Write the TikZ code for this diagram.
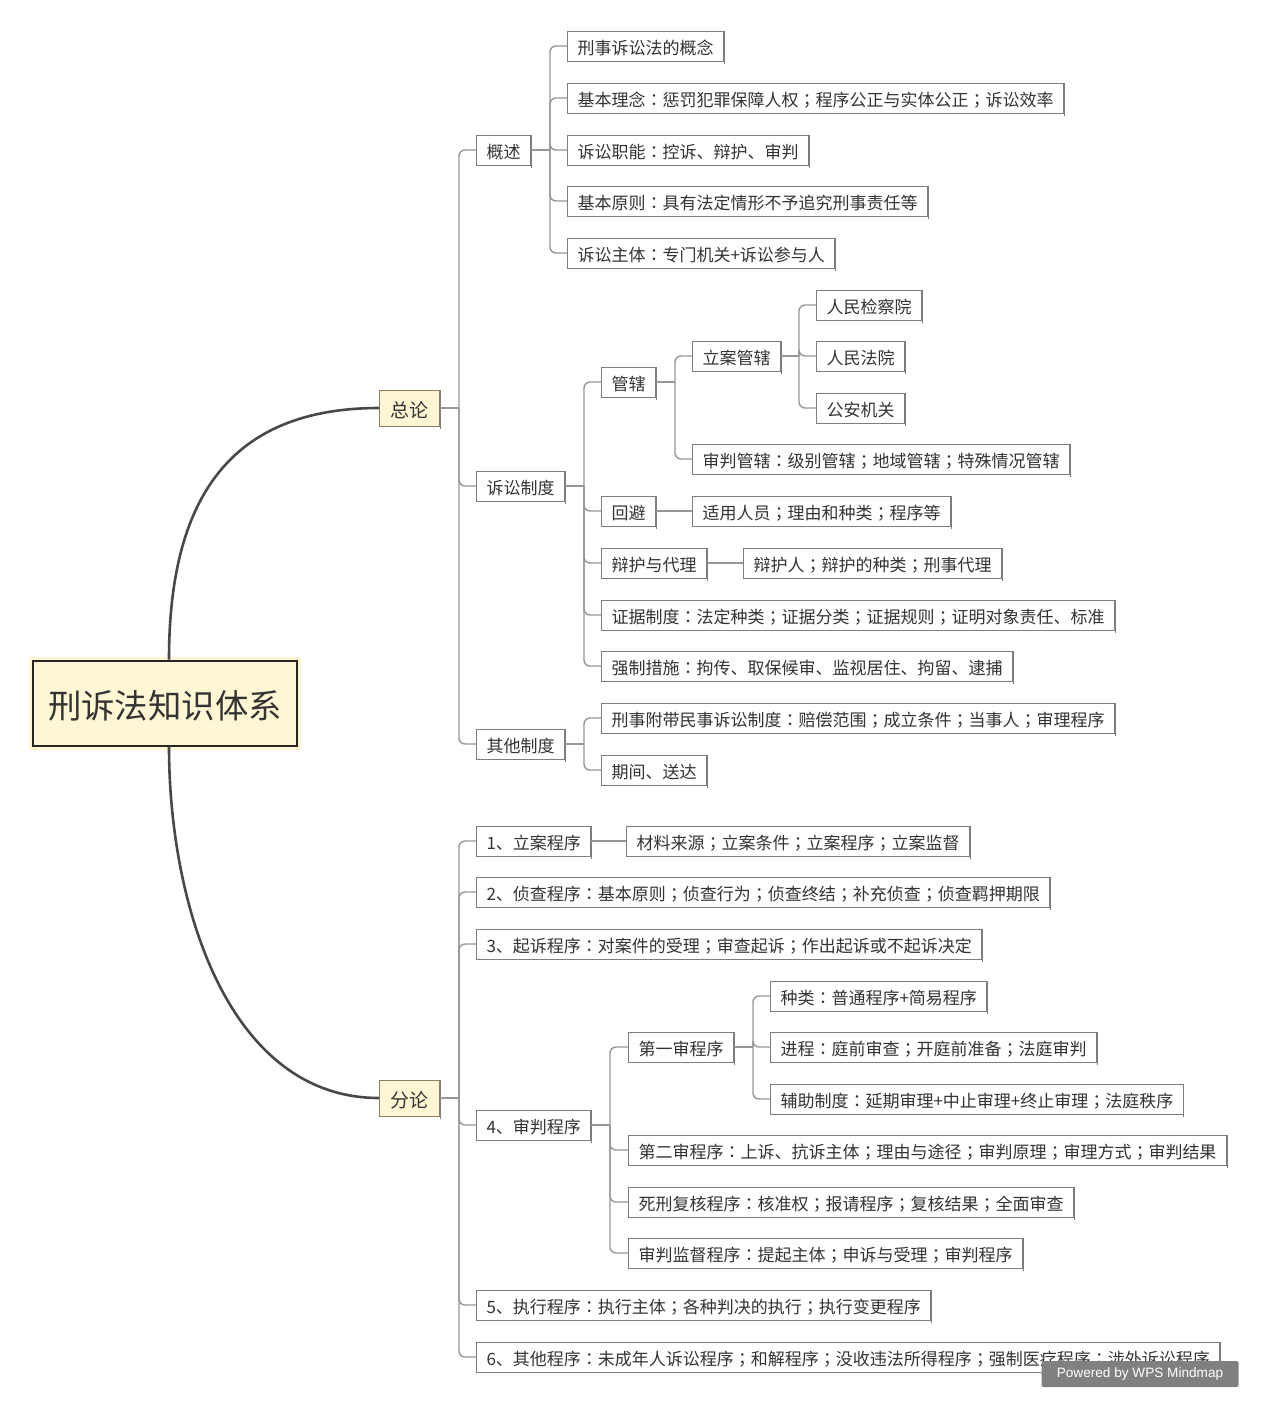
\documentclass[tikz,border=0pt]{standalone}
\usepackage{fontspec}
\setmainfont{Noto Sans CJK SC}
\newfontfamily\jpfont{Noto Sans CJK JP}
\newfontfamily\marksans{Liberation Sans}
\usetikzlibrary{positioning}
\definecolor{notefill}{RGB}{255,246,212}
\definecolor{noteline}{RGB}{140,125,95}
\definecolor{boxline}{RGB}{125,125,125}
\definecolor{linkgray}{RGB}{150,150,150}
\definecolor{inkgray}{RGB}{51,51,51}
\definecolor{trunkgray}{RGB}{72,72,72}
\definecolor{markgray}{RGB}{128,128,128}
% centred full-width colon and semicolon
\catcode`：=\active
\catcode`；=\active
\def：{{\jpfont\char"FF1A}}
\def；{{\jpfont\char"FF1B}}

\begin{document}
\begin{tikzpicture}[
  x=0.5pt, y=-0.5pt,
  item/.style={rectangle, draw=boxline, fill=white, line width=0.5pt, anchor=west, font=\fontsize{8.5}{10}\selectfont, text=inkgray, inner xsep=5pt, inner ysep=0pt, minimum height=15pt, text height=9.5pt, text depth=1pt,
    append after command={\pgfextra{\draw[boxline, line width=0.5pt] (\tikzlastnode.north east) -- ([yshift=-1pt]\tikzlastnode.south east);}}},
  topic/.style={item, draw=noteline, fill=notefill, font=\fontsize{9.5}{11}\selectfont, inner xsep=5.5pt, minimum height=18pt, text height=10.5pt},
  rootbox/.style={rectangle, draw=black!85, fill=notefill, line width=1pt, font=\fontsize{16.7}{20}\selectfont, text=inkgray, inner xsep=7.5pt, minimum height=42.5pt, text height=17pt, text depth=2pt, preaction={draw=notefill, line width=4pt}},
  link/.style={draw=linkgray, line width=0.7pt, rounded corners=3pt},
  trunk/.style={draw=trunkgray, line width=1.3pt},
  wmark/.style={rectangle, fill=markgray, rounded corners=1pt, text=white, font=\marksans\fontsize{6.8}{8}\selectfont, minimum width=98.5pt, minimum height=13pt}
]
\useasboundingbox (0,0) rectangle (1265,1410);

% Root and the two main topics
\node[rootbox] (root) at (165,703) {刑诉法知识体系};
\node[topic] (zl) at (379,408) {总论};
\node[topic] (fl) at (379,1098) {分论};
\draw[trunk] ([xshift=2pt]root.north) .. controls +(0,-160) and +(-150,0) .. (zl.west);
\draw[trunk] ([xshift=2pt]root.south) .. controls +(0,160) and +(-150,0) .. (fl.west);

% 总论
\node[item] (gs) at (476,150) {概述};
\node[item] (sszd) at (476,486) {诉讼制度};
\node[item] (qtzd) at (476,744) {其他制度};
\coordinate (zl-j) at (459,408);
\draw[link] (zl) -- (zl-j);
\foreach \c in {gs,sszd,qtzd} \draw[link] (zl-j) |- (\c.west);

% 概述
\node[item] (gs1) at (567,46) {刑事诉讼法的概念};
\node[item] (gs2) at (567,98) {基本理念：惩罚犯罪保障人权；程序公正与实体公正；诉讼效率};
\node[item] (gs3) at (567,150) {诉讼职能：控诉、辩护、审判};
\node[item] (gs4) at (567,201) {基本原则：具有法定情形不予追究刑事责任等};
\node[item] (gs5) at (567,253) {诉讼主体：专门机关+诉讼参与人};
\coordinate (gs-j) at (550,150);
\draw[link] (gs) -- (gs-j);
\foreach \c in {gs1,gs2,gs3,gs4,gs5} \draw[link] (gs-j) |- (\c.west);

% 诉讼制度
\node[item] (gx) at (601,382) {管辖};
\node[item] (hb) at (601,511) {回避};
\node[item] (bh) at (601,563) {辩护与代理};
\node[item] (zj) at (601,615) {证据制度：法定种类；证据分类；证据规则；证明对象责任、标准};
\node[item] (qz) at (601,666) {强制措施：拘传、取保候审、监视居住、拘留、逮捕};
\coordinate (sszd-j) at (584,486);
\draw[link] (sszd) -- (sszd-j);
\foreach \c in {gx,hb,bh,zj,qz} \draw[link] (sszd-j) |- (\c.west);

% 管辖
\node[item] (lagx) at (692,356) {立案管辖};
\node[item] (spgx) at (692,459) {审判管辖：级别管辖；地域管辖；特殊情况管辖};
\coordinate (gx-j) at (675,382);
\draw[link] (gx) -- (gx-j);
\foreach \c in {lagx,spgx} \draw[link] (gx-j) |- (\c.west);

\node[item] (jcy) at (816,305) {人民检察院};
\node[item] (fy) at (816,356) {人民法院};
\node[item] (ga) at (816,408) {公安机关};
\coordinate (lagx-j) at (799,356);
\draw[link] (lagx) -- (lagx-j);
\foreach \c in {jcy,fy,ga} \draw[link] (lagx-j) |- (\c.west);

% 回避, 辩护与代理
\node[item] (hb1) at (692,511) {适用人员；理由和种类；程序等};
\node[item] (bh1) at (743,563) {辩护人；辩护的种类；刑事代理};
\draw[link] (hb) -- (hb1);
\draw[link] (bh) -- (bh1);

% 其他制度
\node[item] (fdms) at (601,718) {刑事附带民事诉讼制度：赔偿范围；成立条件；当事人；审理程序};
\node[item] (qjsd) at (601,770) {期间、送达};
\coordinate (qtzd-j) at (584,744);
\draw[link] (qtzd) -- (qtzd-j);
\foreach \c in {fdms,qjsd} \draw[link] (qtzd-j) |- (\c.west);

% 分论
\node[item] (la) at (476,841) {1、立案程序};
\node[item] (zc) at (476,892) {2、侦查程序：基本原则；侦查行为；侦查终结；补充侦查；侦查羁押期限};
\node[item] (qs) at (476,944) {3、起诉程序：对案件的受理；审查起诉；作出起诉或不起诉决定};
\node[item] (sp) at (476,1125) {4、审判程序};
\node[item] (zx) at (476,1305) {5、执行程序：执行主体；各种判决的执行；执行变更程序};
\node[item] (qt) at (476,1357) {6、其他程序：未成年人诉讼程序；和解程序；没收违法所得程序；强制医疗程序；涉外诉讼程序};
\coordinate (fl-j) at (459,1098);
\draw[link] (fl) -- (fl-j);
\foreach \c in {la,zc,qs,sp,zx,qt} \draw[link] (fl-j) |- (\c.west);

\node[item] (la1) at (626,841) {材料来源；立案条件；立案程序；立案监督};
\draw[link] (la) -- (la1);

% 审判程序
\node[item] (ys) at (628,1047) {第一审程序};
\node[item] (es) at (628,1150) {第二审程序：上诉、抗诉主体；理由与途径；审判原理；审理方式；审判结果};
\node[item] (sx) at (628,1202) {死刑复核程序：核准权；报请程序；复核结果；全面审查};
\node[item] (jd) at (628,1253) {审判监督程序：提起主体；申诉与受理；审判程序};
\coordinate (sp-j) at (610,1125);
\draw[link] (sp) -- (sp-j);
\foreach \c in {ys,es,sx,jd} \draw[link] (sp-j) |- (\c.west);

\node[item] (ys1) at (770,996) {种类：普通程序+简易程序};
\node[item] (ys2) at (770,1047) {进程：庭前审查；开庭前准备；法庭审判};
\node[item] (ys3) at (770,1099) {辅助制度：延期审理+中止审理+终止审理；法庭秩序};
\coordinate (ys-j) at (753,1047);
\draw[link] (ys) -- (ys-j);
\foreach \c in {ys1,ys2,ys3} \draw[link] (ys-j) |- (\c.west);

% watermark
\node[wmark] (wps) at (1140,1374) {Powered by WPS Mindmap};

\end{tikzpicture}
\end{document}
